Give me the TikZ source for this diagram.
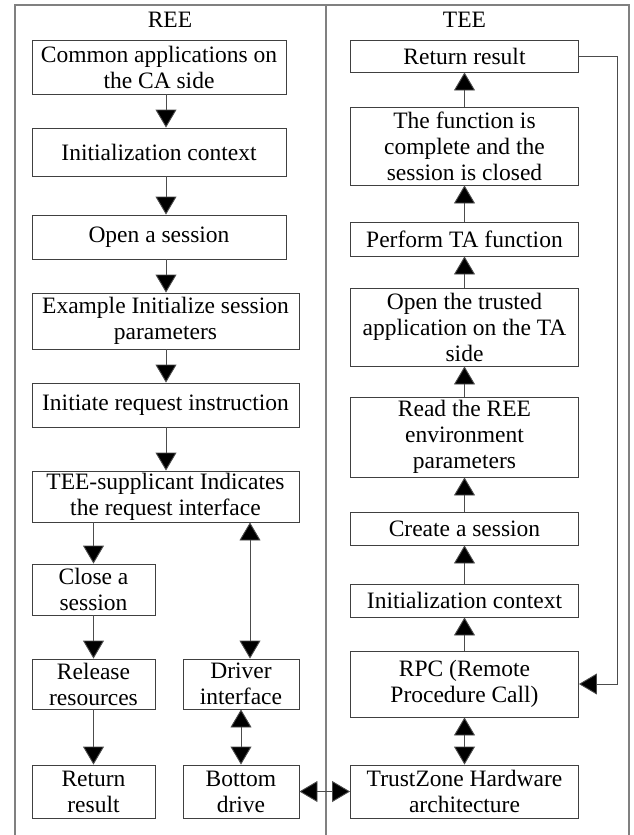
\documentclass[tikz,border=0pt]{standalone}
\usepackage{fontspec}
\setmainfont{Liberation Serif}
\usetikzlibrary{arrows.meta,calc}
\begin{document}
\begin{tikzpicture}[x=1pt,y=-1pt,
  box/.style={draw=black!75,line width=0.9pt,inner sep=0pt,align=center,
    font=\fontsize{23.5}{26}\selectfont,text=black},
  arr/.style={draw=black!70,line width=0.9pt,-{Triangle[width=21pt,length=18pt,fill=black]}},
  dbl/.style={draw=black!70,line width=0.9pt,{Triangle[width=21pt,length=18pt,fill=black]}-{Triangle[width=21pt,length=18pt,fill=black]}},
  frame/.style={draw=black!50,line width=1.4pt},
  lane/.style={font=\fontsize{23.5}{26}\selectfont,inner sep=0pt}]
\useasboundingbox (0,0) rectangle (634,835);
% frame
\draw[frame] (15,835) -- (15,5) -- (629,5) -- (629,835);
\draw[frame] (326,5) -- (326,835);
\node[lane] (ree) at (170,20) {REE};
\node[lane] (tee) at (464.5,20) {TEE};
% left column
\node[box,minimum width=254,minimum height=54] (B1) at (159,67) {Common applications on\\the CA side};
\node[box,minimum width=254,minimum height=48] (B2) at (159,152) {Initialization context};
\node[box,minimum width=254,minimum height=44] (B3) at (159,237) {Open a session};
\node[box,minimum width=267,minimum height=56] (B4) at (165.5,321) {Example Initialize session\\parameters};
\node[box,minimum width=267,minimum height=44] (B5) at (165.5,405) {Initiate request instruction};
\node[box,minimum width=267,minimum height=51] (B6) at (165.5,496.5) {TEE-supplicant Indicates\\the request interface};
\node[box,minimum width=123,minimum height=51] (B7) at (93.5,589.5) {Close a\\session};
\node[box,minimum width=123,minimum height=50] (B8) at (93.5,684) {Release\\resources};
\node[box,minimum width=123,minimum height=53] (B9) at (93.5,791.5) {Return\\result};
\node[box,minimum width=116,minimum height=50] (B10) at (241,684) {Driver\\interface};
\node[box,minimum width=116,minimum height=53] (B11) at (241,791.5) {Bottom\\drive};
% right column
\node[box,minimum width=228,minimum height=32] (T1) at (464.5,56) {Return result};
\node[box,minimum width=228,minimum height=78] (T2) at (464.5,146) {The function is\\complete and the\\session is closed};
\node[box,minimum width=228,minimum height=34] (T3) at (464.5,239) {Perform TA function};
\node[box,minimum width=228,minimum height=78] (T4) at (464.5,327) {Open the trusted\\application on the TA\\side};
\node[box,minimum width=228,minimum height=80] (T5) at (464.5,437) {Read the REE\\environment\\parameters};
\node[box,minimum width=228,minimum height=33] (T6) at (464.5,528.5) {Create a session};
\node[box,minimum width=228,minimum height=33] (T7) at (464.5,600.5) {Initialization context};
\node[box,minimum width=228,minimum height=66] (T8) at (464.5,684) {RPC (Remote\\Procedure Call)};
\node[box,minimum width=228,minimum height=53] (T9) at (464.5,791.5) {TrustZone Hardware\\architecture};
\coordinate (ax) at (166,0);
\coordinate (dx) at (250,0);
\coordinate (fb) at (617,0);
% left arrows
\draw[arr] (B1.south -| ax) -- (B2.north -| ax);
\draw[arr] (B2.south -| ax) -- (B3.north -| ax);
\draw[arr] (B3.south -| ax) -- (B4.north -| ax);
\draw[arr] (B4.south -| ax) -- (B5.north -| ax);
\draw[arr] (B5.south -| ax) -- (B6.north -| ax);
\draw[arr] (B6.south -| B7.south) -- (B7.north);
\draw[arr] (B7) -- (B8);
\draw[arr] (B8) -- (B9);
\draw[dbl] (B6.south -| dx) -- (B10.north -| dx);
\draw[dbl] (B10) -- (B11);
\draw[dbl] (B11) -- (T9);
% right arrows
\draw[dbl] (T8) -- (T9);
\draw[arr] (T8) -- (T7);
\draw[arr] (T7) -- (T6);
\draw[arr] (T6) -- (T5);
\draw[arr] (T5) -- (T4);
\draw[arr] (T4) -- (T3);
\draw[arr] (T3) -- (T2);
\draw[arr] (T2) -- (T1);
\draw[arr] (T1.east) -- (T1.east -| fb) -- (T8.east -| fb) -- (T8.east);
\end{tikzpicture}
\end{document}
